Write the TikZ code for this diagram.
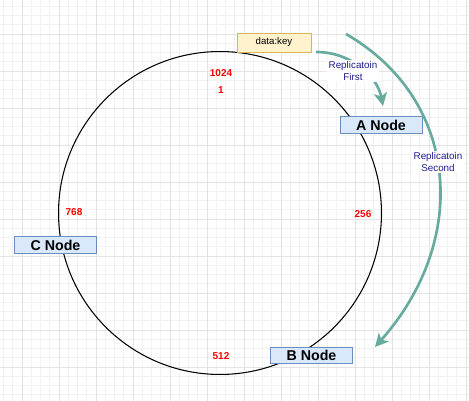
\documentclass[tikz,border=0pt]{standalone}
\usepackage{fontspec}
\setmainfont{Liberation Sans}
\usepackage{xcolor}
\usetikzlibrary{arrows.meta}

\definecolor{replgreen}{HTML}{67AB9F}
\definecolor{repltext}{HTML}{1E1E8C}
\definecolor{nodefill}{HTML}{DAE8FC}
\definecolor{nodeline}{HTML}{6C8EBF}
\definecolor{keyfill}{HTML}{FFF2CC}
\definecolor{keyline}{HTML}{D6B656}

\begin{document}
\begin{tikzpicture}[x=0.02cm, y=-0.02cm,
    gridminor/.style={draw=black!5, line width=0.4pt},
    gridmajor/.style={draw=black!11, line width=0.5pt},
    server/.style={draw=nodeline, fill=nodefill, minimum width=1.64cm, minimum height=0.33cm, inner sep=0pt, font=\fontsize{8.1}{9}\selectfont\bfseries},
    keybox/.style={draw=keyline, fill=keyfill, minimum width=1.48cm, minimum height=0.38cm, inner sep=0pt, font=\fontsize{5.5}{6.5}\selectfont},
    slot/.style={text=red, inner sep=0pt, font=\fontsize{5.7}{6.5}\selectfont\bfseries},
    replarrow/.style={draw=replgreen, line width=1.5pt, -{Stealth[length=7.5pt, width=7.5pt, inset=2pt]}},
    repllabel/.style={fill=white, text=repltext, align=center, inner sep=1pt, font=\fontsize{5.6}{6.4}\selectfont}]
  \useasboundingbox (0,0) rectangle (469,401);
  \fill[white] (0,0) rectangle (469,401);
  \foreach \x in {3.5,12.75,...,469} \draw[gridminor] (\x,0) -- (\x,401);
  \foreach \y in {6.25,15.5,...,401} \draw[gridminor] (0,\y) -- (469,\y);
  \foreach \x in {22,59,...,469} \draw[gridmajor] (\x,0) -- (\x,401);
  \foreach \y in {34,71,...,401} \draw[gridmajor] (0,\y) -- (469,\y);

  \node[draw, circle, minimum size=6.46cm, inner sep=0pt, line width=0.6pt] (ring) at (220,213) {};

  \node[slot] (s1024) at (221,73) {1024};
  \node[slot] (s1) at (221,90) {1};
  \node[slot] (s256) at (363,214) {256};
  \node[slot] (s768) at (74,212) {768};
  \node[slot] (s512) at (221,356) {512};

  \node[keybox] (key) at (274,42.5) {data:key};
  \node[server] (anode) at (381,125) {A Node};
  \node[server] (bnode) at (311.5,355.5) {B Node};
  \node[server] (cnode) at (55.5,245) {C Node};

  \coordinate (firststart) at (316,52);
  \coordinate (firsttip) at (383,106);
  \coordinate (secondstart) at (346,34);
  \coordinate (secondtip) at (375,347);

  \draw[replarrow] (firststart) .. controls (350,52) and (377,75) .. (firsttip);
  \draw[replarrow] (secondstart) .. controls (460,100) and (470,240) .. (secondtip);

  \node[repllabel] (lblfirst) at (353,71) {Replicatoin\\First};
  \node[repllabel] (lblsecond) at (438,162) {Replicatoin\\Second};
\end{tikzpicture}
\end{document}
